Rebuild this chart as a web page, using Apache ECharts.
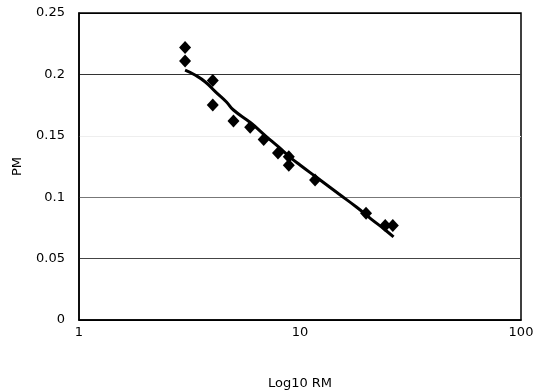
<!DOCTYPE html>
<html><head><meta charset="utf-8">
<script src="https://cdn.jsdelivr.net/npm/echarts@6/dist/echarts.min.js"></script>
<style>html,body{margin:0;padding:0;background:#fff}#c{width:534px;height:391px}</style>
</head><body><div id="c"></div>
<script>
// Observed points
var obsRM = [3.02, 3.02, 4.03, 4.03, 5.0, 5.95, 6.85, 7.95, 8.9, 8.9, 11.7, 19.9, 24.3, 26.3];
var obsPM = [0.222, 0.211, 0.195, 0.175, 0.162, 0.157, 0.147, 0.136, 0.133, 0.126, 0.114, 0.087, 0.077, 0.077];
// Fitted curve
var fitRM = [3.02, 3.35, 3.73, 4.16, 4.65, 5.0, 6.0, 7.0, 8.0, 9.0, 10, 12, 15, 18, 21, 24, 26.5];
var fitPM = [0.2035, 0.1995, 0.1938, 0.1856, 0.1775, 0.171, 0.1604, 0.1498, 0.1409, 0.1327, 0.1262, 0.1156, 0.1026, 0.092, 0.0822, 0.0741, 0.0676];
var yTicks = [0, 0.05, 0.1, 0.15, 0.2, 0.25];

var chart = echarts.init(document.getElementById('c'), null, {renderer:'canvas'});
var font = 'DejaVu Sans, sans-serif';
chart.setOption({
  animation:false,
  backgroundColor:'#fff',
  grid:{left:79,right:13,top:13,bottom:71,outerBoundsMode:'none',containLabel:false,
    show:true,borderColor:'#000',borderWidth:1.5,backgroundColor:'transparent'},
  xAxis:{type:'log',logBase:10,min:1,max:100,
    name:'Log10 RM',nameLocation:'middle',nameGap:57,
    nameTextStyle:{color:'#000',fontFamily:font,fontSize:13},
    axisLine:{show:true,lineStyle:{color:'#000',width:1.5}},
    axisTick:{show:false},minorTick:{show:false},
    splitLine:{show:false},
    axisLabel:{color:'#000',fontFamily:font,fontSize:13,margin:6}},
  yAxis:{type:'value',min:yTicks[0],max:yTicks[yTicks.length-1],interval:0.05,
    name:'PM',nameLocation:'middle',nameGap:55,
    nameTextStyle:{color:'#000',fontFamily:font,fontSize:13},
    axisLine:{show:true,lineStyle:{color:'#000',width:1.5}},
    axisTick:{show:false},
    splitLine:{show:true,lineStyle:{color:['#000','#444','#777','#eeeeee','#333','#000'],width:1}},
    axisLabel:{color:'#000',fontFamily:font,fontSize:13,margin:14,
      formatter:function(v){return String(+v.toFixed(2));}}},
  series:[
    {type:'line',data:fitRM.map(function(x,i){return [x,fitPM[i]];}),
      smooth:true,showSymbol:false,lineStyle:{color:'#000',width:3},z:3},
    {type:'scatter',data:obsRM.map(function(x,i){return [x,obsPM[i]];}),
      symbol:'diamond',symbolSize:[12,13],itemStyle:{color:'#000',opacity:1},z:4}
  ]
});
</script></body></html>
